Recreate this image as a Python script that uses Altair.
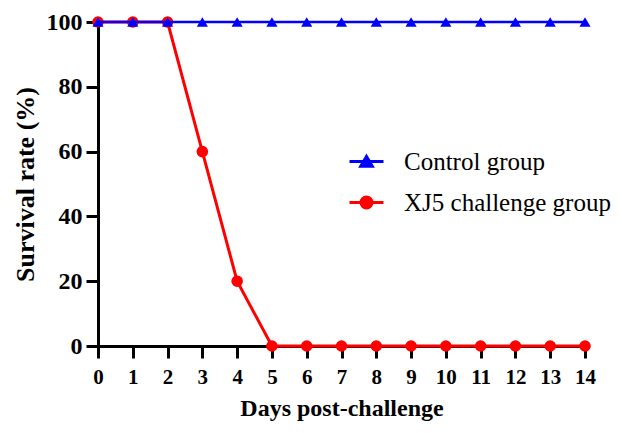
import altair as alt
import pandas as pd

days = [0, 1, 2, 3, 4, 5, 6, 7, 8, 9, 10, 11, 12, 13, 14]
control = [100, 100, 100, 100, 100, 100, 100, 100, 100, 100, 100, 100, 100, 100, 100]
xj5 = [100, 100, 100, 60, 20, 0, 0, 0, 0, 0, 0, 0, 0, 0, 0]
groups = ["Control group", "XJ5 challenge group"]
colors = ["#0000FF", "#FF0000"]
y_ticks = [0, 20, 40, 60, 80, 100]

rows = []
for d, c in zip(days, control):
    rows.append({"day": d, "rate": c, "group": groups[0]})
for d, v in zip(days, xj5):
    rows.append({"day": d, "rate": v, "group": groups[1]})
df = pd.DataFrame(rows)

FONT = "Liberation Serif, DejaVu Serif, serif"

x_enc = alt.X("day:Q", scale=alt.Scale(domain=[0, 14], nice=False, zero=False),
              axis=alt.Axis(values=days, title="Days post-challenge", labelAngle=0,
                            labelFont=FONT, titleFont=FONT,
                            labelFontSize=21, titleFontSize=24, labelPadding=8,
                            titlePadding=9, labelFlush=False))
y_enc = alt.Y("rate:Q", scale=alt.Scale(domain=[0, 100], nice=False),
              axis=alt.Axis(values=y_ticks, title="Survival rate (%)",
                            labelFont=FONT, titleFont=FONT,
                            labelFontSize=24, titleFontSize=26, labelPadding=4,
                            titlePadding=8))

base = alt.Chart(df).encode(x=x_enc, y=y_enc)

red_line = base.transform_filter(alt.datum.group == groups[1]).mark_line(
    color=colors[1], strokeWidth=3)
red_pts = base.transform_filter(alt.datum.group == groups[1]).mark_point(
    filled=True, shape="circle", size=135, color=colors[1], opacity=1)
blue_line = base.transform_filter(alt.datum.group == groups[0]).mark_line(
    color=colors[0], strokeWidth=2.6)
blue_pts = base.transform_filter(alt.datum.group == groups[0]).mark_point(
    filled=True, shape="triangle-up", size=125, color=colors[0], opacity=1)

tri_path = "M-1,0L1,0M0,-0.3L0.34,0.28L-0.34,0.28Z"
circ_path = "M-1,0L1,0M-0.32,0A0.32,0.32,0,1,1,0.32,0A0.32,0.32,0,1,1,-0.32,0Z"

legend = alt.Legend(title=None, orient="none", legendX=250, legendY=121,
                    labelFont=FONT, labelFontSize=25, labelFontWeight="normal",
                    labelColor="black", symbolSize=1156, symbolStrokeWidth=3,
                    labelOffset=19, rowPadding=9, padding=0, labelLimit=400)

legend_layer = base.transform_filter("false").mark_point(
    filled=True, opacity=1, strokeWidth=3, size=1156).encode(
    fill=alt.Fill("group:N", scale=alt.Scale(domain=groups, range=colors), legend=legend),
    stroke=alt.Stroke("group:N", scale=alt.Scale(domain=groups, range=colors), legend=legend),
    shape=alt.Shape("group:N", scale=alt.Scale(domain=groups, range=[tri_path, circ_path]),
                    legend=legend),
)

chart = alt.layer(red_line, red_pts, blue_line, blue_pts, legend_layer).properties(
    width=487, height=324,
    autosize=alt.AutoSizeParams(type="none"),
    padding={"left": 90, "top": 14, "right": 29, "bottom": 79},
).configure_view(stroke=None).configure_axis(
    grid=False, domainColor="black", domainWidth=3, tickColor="black", tickWidth=3,
    tickSize=12, labelColor="black", titleColor="black",
    labelFontWeight="bold", titleFontWeight="bold", domainCap="square",
)

chart.save("out.html", embed_options={"renderer": "svg", "actions": False})
